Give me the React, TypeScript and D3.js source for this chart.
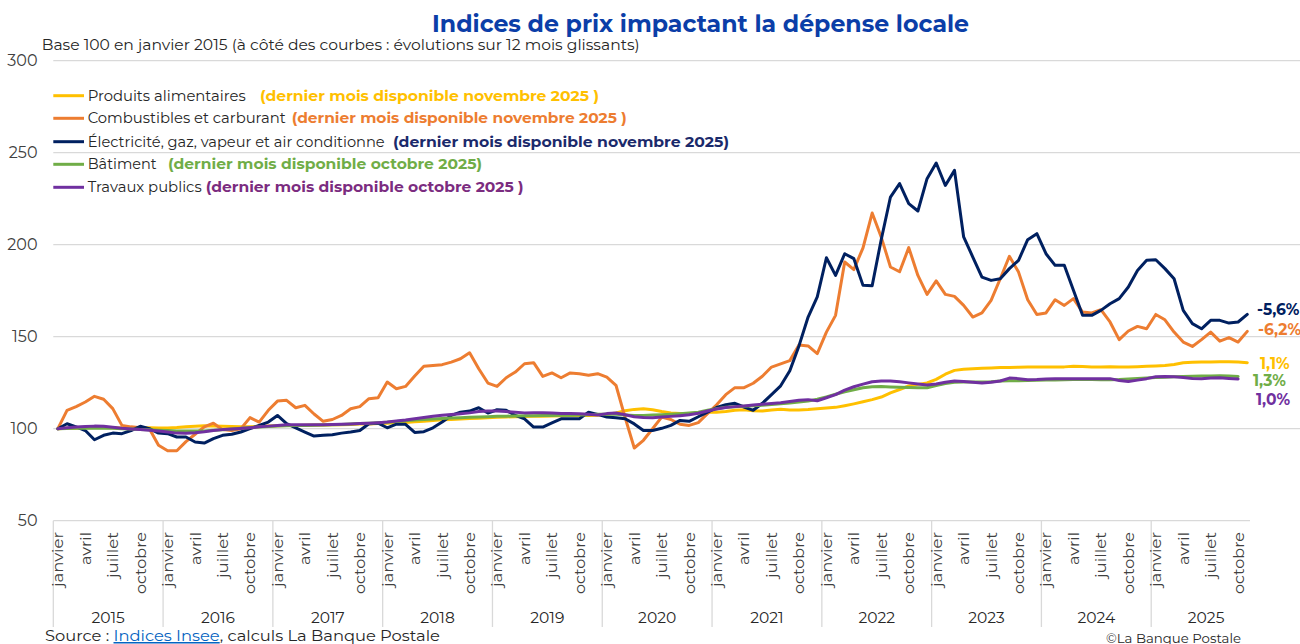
import React from "react";
import * as d3 from "d3";

const years = [2015, 2016, 2017, 2018, 2019, 2020, 2021, 2022, 2023, 2024, 2025];
const monthNames = ["janvier", "février", "mars", "avril", "mai", "juin", "juillet", "août", "septembre", "octobre", "novembre", "décembre"];
const shownMonths = ["janvier", "avril", "juillet", "octobre"];
const yTicks = [50, 100, 150, 200, 250, 300];

// Indices, base 100 = janvier 2015 (monthly, from janvier 2015)
const produitsAlimentaires = [
  100, 100.2, 100.3, 100.5, 100.6, 100.6, 100.5, 100.4, 100.4, 100.5, 100.5, 100.4,
  100.4, 100.6, 101, 101.3, 101.6, 101.5, 101.3, 101.2, 101, 101.1, 101.3, 101.5,
  101.6, 101.7, 101.8, 101.9, 102, 102, 102.1, 102.2, 102.3, 102.5, 102.6, 102.8,
  103, 103.2, 103.4, 103.8, 104.1, 104.5, 104.8, 105, 105.3, 105.5, 105.7, 105.9,
  106.2, 106.4, 106.5, 106.6, 106.7, 106.8, 106.9, 107.1, 107.2, 107.2, 107.2, 107.3,
  107.8, 108.6, 109.8, 110.5, 110.9, 110.3, 109.3, 108.6, 108.3, 108.2, 108.5, 108.9,
  109, 109.3, 110, 110.3, 109.8, 109.6, 110.2, 110.6, 110.1, 110.2, 110.4, 110.9,
  111.2, 111.6, 112.5, 113.5, 114.6, 115.8, 117.2, 119.5, 121.3, 123.2, 124.1, 124.9,
  126.8, 129.6, 131.7, 132.3, 132.6, 132.8, 133, 133.2, 133.2, 133.4, 133.5, 133.5,
  133.6, 133.5, 133.6, 133.9, 133.8, 133.5, 133.6, 133.7, 133.6, 133.5, 133.7, 133.9,
  134.1, 134.3, 134.9, 135.8, 136.1, 136.2, 136.3, 136.4, 136.4, 136.2, 135.9,
];
const combustiblesCarburant = [
  100, 110, 112, 114.5, 117.6, 116, 110.9, 101.8, 101, 100.5, 100, 91,
  88, 88, 93, 97, 101, 103, 99.5, 99, 100, 106, 103.6, 110,
  115, 115.4, 111.4, 112.7, 108, 104, 105, 107.2, 110.8, 112, 116.3, 116.8,
  125.4, 121.7, 123, 128.6, 133.9, 134.4, 134.8, 136.2, 138, 141.3, 132.6, 124.8,
  123, 127.7, 130.8, 135.3, 135.9, 128.4, 130.3, 127.7, 130.3, 129.9, 129, 129.9,
  128, 123.6, 106, 89.5, 93.7, 100, 106.3, 105, 102.4, 101.8, 103.3, 108.2,
  113, 118.5, 122.3, 122.3, 124.7, 128.5, 133.5, 135.2, 137, 145.5, 145, 140.8,
  152.5, 161.6, 190.6, 186.5, 198.3, 217.2, 204, 187.9, 185.3, 198.4, 183.3, 173,
  180.3, 173, 171.9, 167, 160.7, 162.9, 169.7, 181.5, 193.7, 185.1, 170.1, 162.1,
  162.9, 170.1, 167, 170.7, 163.4, 162.9, 164.7, 158, 148.4, 153.1, 155.6, 154.3,
  162.1, 159.2, 152.5, 147.1, 144.7, 148.4, 152.5, 147.6, 149.5, 147.1, 152.9,
];
const electriciteGaz = [
  100, 102.7, 101, 99, 94, 96.4, 97.6, 97.3, 99, 101.3, 100, 97.6,
  97.3, 95.5, 95.5, 92.8, 92.2, 94.6, 96.4, 97, 98.2, 100, 101.8, 103.6,
  107.2, 102.7, 100.4, 98.2, 96, 96.4, 96.7, 97.6, 98.2, 99, 102.7, 103,
  100.5, 102.5, 102.4, 98, 98.4, 100.5, 103.6, 107.2, 109, 109.6, 111.4, 108.5,
  110.3, 110, 107.2, 105.4, 100.9, 100.9, 103.1, 105.4, 105.4, 105.4, 109, 107.8,
  106.3, 106, 105.4, 102.6, 99, 99, 100.2, 101.8, 104.5, 104, 106.5, 109,
  111.5, 113, 113.8, 111.8, 110, 113.8, 118.5, 123.3, 131.5, 145, 160.7, 171.6,
  192.9, 183.3, 195.1, 192.4, 177.9, 177.7, 203, 225.9, 233.2, 222.3, 218.3, 235.9,
  244.4, 232.2, 240.4, 204.2, 193.3, 182.4, 180.6, 181.5, 187, 191.5, 202.7, 206,
  195.1, 188.8, 188.8, 175.2, 161.6, 161.6, 164.3, 167.9, 170.7, 177, 186, 191.5,
  191.8, 187, 181.5, 164.3, 157.1, 154.3, 158.9, 158.9, 157.4, 158, 162.1,
];
const batiment = [
  100, 100.1, 100.2, 100.3, 100.4, 100.3, 100.2, 100, 99.8, 99.6, 99.4, 99.2,
  99, 98.8, 98.7, 98.7, 98.8, 99.1, 99.4, 99.8, 100.2, 100.6, 100.9, 101.2,
  101.5, 101.6, 101.7, 101.8, 101.9, 102, 102.1, 102.3, 102.5, 102.8, 103, 103.2,
  103.5, 103.9, 104.3, 104.7, 105, 105.3, 105.6, 105.8, 106, 106.2, 106.4, 106.5,
  106.7, 106.8, 106.9, 107, 107.1, 107.2, 107.2, 107.3, 107.3, 107.4, 107.6, 107.8,
  107.9, 107.8, 107.5, 107.2, 107.2, 107.4, 107.6, 107.8, 108.1, 108.5, 109, 110,
  110.9, 111.6, 111.9, 112.2, 112.5, 112.8, 113.2, 113.6, 114, 114.5, 115, 116,
  117.3, 118.7, 120, 121.2, 122.3, 122.8, 123, 122.7, 122.5, 122.4, 122.3, 122.3,
  123.5, 124.5, 125.2, 125.4, 125.4, 125.4, 125.5, 125.9, 126, 126.1, 126.2, 126.3,
  126.4, 126.5, 126.6, 126.8, 126.8, 126.7, 126.6, 126.6, 126.7, 127, 127.3, 127.6,
  127.8, 128, 128.2, 128.4, 128.5, 128.6, 128.7, 128.8, 128.6, 128.4,
];
const travauxPublics = [
  100, 100.5, 100.9, 101.2, 101.4, 101.3, 100.8, 100.2, 99.8, 99.5, 99.2, 98.7,
  98.2, 97.6, 97.5, 97.8, 98.3, 99, 99.5, 99.8, 100.1, 100.5, 101, 101.4,
  101.8, 102.1, 102.2, 102.2, 102.2, 102.2, 102.3, 102.4, 102.6, 102.8, 103, 103.3,
  103.6, 104.2, 104.7, 105.4, 106.1, 106.8, 107.3, 107.7, 108.1, 108.6, 109.3, 109.6,
  109.6, 109.3, 108.9, 108.6, 108.7, 108.7, 108.5, 108.3, 108.2, 108.1, 107.8, 107.5,
  108.2, 108.5, 107.6, 106.5, 106.1, 106, 106.3, 106.7, 107.1, 107.6, 108.4, 109.6,
  110.7, 111.5, 112, 112.4, 112.9, 113.3, 113.7, 114.1, 114.8, 115.5, 115.8, 115.2,
  116.8, 118.5, 121, 122.8, 124.2, 125.5, 125.9, 125.9, 125.5, 124.9, 124.3, 123.7,
  124.3, 125.2, 125.9, 125.7, 125.2, 124.8, 125.3, 125.9, 127.5, 127.2, 126.6, 126.7,
  127, 127.2, 127.2, 127.2, 127.2, 127.2, 127.2, 127.2, 126.2, 125.6, 126.4, 127.2,
  128.2, 128.4, 128.2, 127.8, 127.3, 127.1, 127.5, 127.7, 127.3, 127,
];

const seriesNames = [
  "Produits alimentaires",
  "Combustibles et carburant",
  "Électricité, gaz, vapeur et air conditionne",
  "Bâtiment",
  "Travaux publics",
];
const legendNotes = [
  "(dernier mois disponible  novembre 2025 )",
  "(dernier mois disponible novembre 2025 )",
  "(dernier mois disponible novembre 2025)",
  "(dernier mois disponible octobre 2025)",
  "(dernier mois disponible octobre 2025 )",
];
const evolutions = ["1,1%", "-6,2%", "-5,6%", "1,3%", "1,0%"];

const seriesValues = [produitsAlimentaires, combustiblesCarburant, electriciteGaz, batiment, travauxPublics];

// presentation (styles/positions)
const colors = ["#FFC000", "#ED7D31", "#002060", "#70AD47", "#7030A0"];
const noteColors = ["#FFC000", "#ED7D31", "#1B2A6B", "#70AD47", "#7B2C80"];
const legendY = [95.7, 118.3, 141.7, 164.3, 187.3];
const nameLen = [158, 198, 297, 69, 114];
const noteX = [260, 291.7, 393, 168, 205.7];
const noteLen = [339, 335, 336, 314, 318];
const endLabelX = [1260, 1258, 1257, 1253, 1256];
const endLabelY = [369, 335, 315, 386, 405];
const monthLabelLen: Record<string, number> = { janvier: 55, avril: 33, juillet: 46, octobre: 62 };
const drawOrder = [0, 1, 2, 3, 4];

const FONT = "Montserrat, 'Open Sans', sans-serif";

export default function App() {
  const W = 1300;
  const H = 644;
  const left = 53.3;
  const right = 1261;
  const yTop = 60.7;
  const yBottom = 520.7;

  const categories = years.flatMap((yr) => monthNames.map((m) => `${m} ${yr}`));
  const x = d3.scaleBand<string>().domain(categories).range([left, right]).paddingInner(0).paddingOuter(0);
  const bw = x.bandwidth();
  const xc = (i: number) => (x(categories[i]) as number) + bw / 2;
  const y = d3.scaleLinear().domain([50, 300]).range([yBottom, yTop]);

  const line = d3
    .line<number>()
    .x((_, i) => xc(i))
    .y((d) => y(d));

  return (
    <svg
      width={W}
      height={H}
      viewBox={`0 0 ${W} ${H}`}
      style={{ position: "absolute", left: 0, top: 0, background: "#fff", fontFamily: FONT }}
    >
      <rect x={0} y={0} width={W} height={H} fill="#fff" />
      {/* Title */}
      <text x={700.5} y={31.5} textAnchor="middle" fontSize={24} fontWeight={700} fill="#0B3EA8" textLength={537} lengthAdjust="spacingAndGlyphs">
        Indices de prix impactant la dépense locale
      </text>
      <text x={41.7} y={50} fontSize={15} fill="#262626" textLength={598} lengthAdjust="spacingAndGlyphs">
        Base 100 en janvier 2015 (à côté des courbes : évolutions sur 12 mois glissants)
      </text>

      {/* gridlines */}
      {yTicks.map((t) => (
        <line
          key={`g${t}`}
          x1={left}
          x2={t === 50 ? 1250 : W}
          y1={y(t)}
          y2={y(t)}
          stroke="#d9d9d9"
          strokeWidth={1.3}
        />
      ))}
      {yTicks.map((t) => (
        <text key={`yl${t}`} x={37.5} y={y(t)} dy="0.35em" textAnchor="end" fontSize={16} fill="#404040">
          {t}
        </text>
      ))}

      {/* x axis: year separators */}
      {years.map((yr) => (
        <line
          key={`sep${yr}`}
          x1={x(`janvier ${yr}`) as number}
          x2={x(`janvier ${yr}`) as number}
          y1={yBottom}
          y2={627}
          stroke="#d9d9d9"
          strokeWidth={1.3}
        />
      ))}
      {categories.map((c, i) =>
        shownMonths.includes(monthNames[i % 12]) ? (
          <text
            key={`m${i}`}
            transform={`translate(${xc(i)},532) rotate(-90)`}
            dy="0.36em"
            textAnchor="end"
            fontSize={15}
            fill="#404040"
            textLength={monthLabelLen[monthNames[i % 12]]}
            lengthAdjust="spacingAndGlyphs"
          >
            {monthNames[i % 12]}
          </text>
        ) : null
      )}
      {years.map((yr) => (
        <text
          key={`yr${yr}`}
          x={(x(`janvier ${yr}`) as number) + bw * 6}
          y={623}
          textAnchor="middle"
          fontSize={15.5}
          fill="#262626"
        >
          {yr}
        </text>
      ))}

      {/* series */}
      {drawOrder.map((k) => (
        <path
          key={`s${k}`}
          d={line(seriesValues[k]) || ""}
          fill="none"
          stroke={colors[k]}
          strokeWidth={3}
          strokeLinejoin="round"
          strokeLinecap="round"
        />
      ))}

      {/* legend */}
      {seriesNames.map((n, k) => (
        <g key={`lg${k}`}>
          <line x1={53.3} x2={84} y1={legendY[k]} y2={legendY[k]} stroke={colors[k]} strokeWidth={3} />
          <text x={87.7} y={legendY[k] + 5} fontSize={15} fill="#262626" textLength={nameLen[k]} lengthAdjust="spacingAndGlyphs">
            {n}
          </text>
          <text
            x={noteX[k]}
            y={legendY[k] + 5}
            fontSize={15}
            fontWeight={700}
            fill={noteColors[k]}
            textLength={noteLen[k]}
            lengthAdjust="spacingAndGlyphs"
          >
            {legendNotes[k]}
          </text>
        </g>
      ))}

      {/* end labels */}
      {evolutions.map((e, k) => (
        <text key={`ev${k}`} x={endLabelX[k]} y={endLabelY[k]} fontSize={15.5} fontWeight={700} fill={colors[k]}>
          {e}
        </text>
      ))}

      {/* footer */}
      <text x={45} y={641} fontSize={15} fill="#262626" textLength={395} lengthAdjust="spacingAndGlyphs">
        Source :{" "}
        <tspan fill="#0563C1" textDecoration="underline">
          Indices Insee
        </tspan>
        , calculs La Banque Postale
      </text>
      <text x={1106} y={643} fontSize={13} fill="#262626" textLength={135} lengthAdjust="spacingAndGlyphs">
        ©La Banque Postale
      </text>
    </svg>
  );
}
